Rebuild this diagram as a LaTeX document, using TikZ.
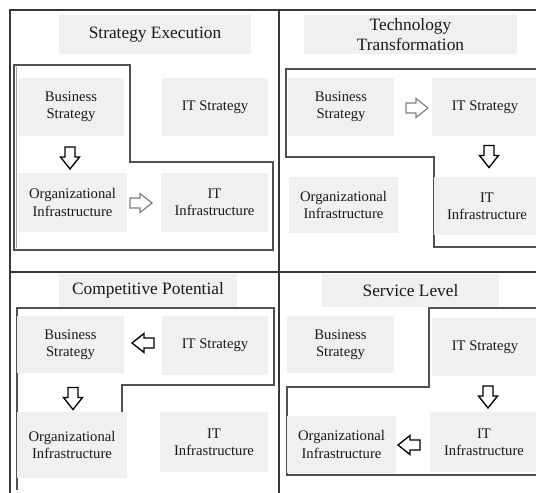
\documentclass[tikz,border=0pt]{standalone}
\usepackage{fontspec}
\setmainfont{Liberation Serif}
\usetikzlibrary{calc}
\definecolor{boxgray}{RGB}{240,240,240}
\definecolor{framec}{RGB}{55,55,55}
\definecolor{linec}{RGB}{80,80,80}
\definecolor{arrgray}{RGB}{125,125,125}
\definecolor{txt}{RGB}{25,25,25}
\tikzset{
  box/.style={fill=boxgray, draw=none, inner sep=0pt, align=center, text=txt,
    font=\fontsize{11}{13}\selectfont},
  titlebox/.style={box, font=\fontsize{13}{15.5}\selectfont},
  sz/.style 2 args={minimum width={#1*0.75pt}, minimum height={#2*0.75pt}},
  frameline/.style={draw=framec, line width=1.2pt},
  outline/.style={draw=linec, line width=0.8pt},
  blackarrow/.style={draw=black, line width=1pt},
  grayarrow/.style={draw=arrgray, line width=0.9pt},
  pics/barrow/.style={code={
    \draw[pic actions, fill=white, line join=miter]
      (-11,-5) -- (-1,-5) -- (-1,-9.5) -- (11,0) -- (-1,9.5) -- (-1,5) -- (-11,5) -- cycle;}},
}
\begin{document}
\begin{tikzpicture}[x=0.75pt, y=-0.75pt]
\useasboundingbox (0,0) rectangle (536,493);
\clip (0,0) rectangle (536,493);

% frame
\draw[frameline] (10,493) -- (10,10) -- (536,10);
\draw[frameline] (279,10) -- (279,493);
\draw[frameline] (10,272) -- (536,272);

% outlines of the aligned domains
\draw[outline] (14,65) -- (130,65) -- (130,162) -- (273,162) -- (273,250) -- (14,250) -- cycle;
\draw[draw=linec!55, line width=0.6pt] (16.5,67) -- (16.5,248);
\draw[outline] (540,69) -- (286,69) -- (286,157) -- (434,157) -- (434,247) -- (540,247);
\draw[outline] (17,490) -- (17,308) -- (274,308) -- (274,385) -- (122,385) -- (122,478);
\draw[outline] (540,308) -- (429,308) -- (429,387) -- (287,387) -- (287,475) -- (540,475);

% top left: Strategy Execution
\node[titlebox, sz={192}{39}] (tlt) at (155,34.5) {Strategy Execution};
\node[box, sz={106}{58}] (tlbs) at (71,107) {Business\\Strategy};
\node[box, sz={106}{58}] (tlits) at (215,107) {IT Strategy};
\node[box, sz={109}{59}] (tloi) at (72.5,202.5) {Organizational\\Infrastructure};
\node[box, sz={107}{59}] (tliti) at (214.5,202.5) {IT\\Infrastructure};
\pic[blackarrow, rotate=-90] at (70,158) {barrow};
\pic[grayarrow] at (141,203) {barrow};

% top right: Technology Transformation
\node[titlebox, sz={213}{39}] (trt) at (410.5,34.5) {Technology\\Transformation};
\node[box, sz={106}{58}] (trbs) at (341,107) {Business\\Strategy};
\node[box, sz={106}{58}] (trits) at (485,107) {IT Strategy};
\node[box, sz={109}{56}] (troi) at (343.5,205) {Organizational\\Infrastructure};
\node[box, sz={106}{58}] (triti) at (487,206) {IT\\Infrastructure};
\pic[grayarrow] at (417,108) {barrow};
\pic[blackarrow, rotate=-90] at (489,156.5) {barrow};

% bottom left: Competitive Potential
\node[titlebox, sz={178}{33}] (blt) at (148,290.5) {Competitive Potential};
\node[box, sz={107}{57}] (blbs) at (70.5,344.5) {Business\\Strategy};
\node[box, sz={106}{59}] (blits) at (215,345.5) {IT Strategy};
\node[box, sz={110}{66}] (bloi) at (72,445) {Organizational\\Infrastructure};
\node[box, sz={108}{60}] (bliti) at (214,442) {IT\\Infrastructure};
\pic[blackarrow, rotate=180] at (143,343) {barrow};
\pic[blackarrow, rotate=-90] at (73,398.5) {barrow};

% bottom right: Service Level
\node[titlebox, sz={177}{33}] (brt) at (410.5,290.5) {Service Level};
\node[box, sz={107}{57}] (brbs) at (340.5,344.5) {Business\\Strategy};
\node[box, sz={106}{58}] (brits) at (485,347) {IT Strategy};
\node[box, sz={109}{57}] (broi) at (341.5,444.5) {Organizational\\Infrastructure};
\node[box, sz={108}{60}] (briti) at (484,442) {IT\\Infrastructure};
\pic[blackarrow, rotate=-90] at (488,397) {barrow};
\pic[blackarrow, rotate=180] at (409,445) {barrow};
\end{tikzpicture}
\end{document}
